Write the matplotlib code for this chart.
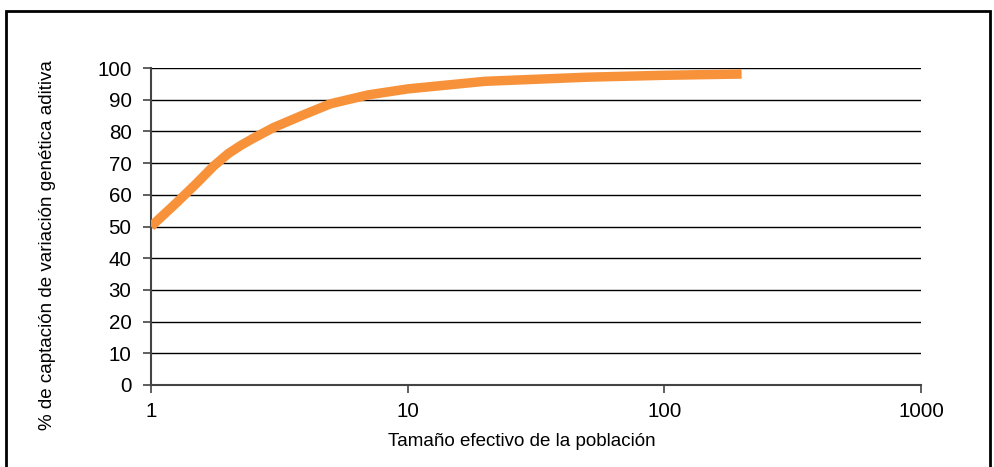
import matplotlib
matplotlib.use("Agg")
import matplotlib.pyplot as plt
from matplotlib.ticker import FixedLocator, FixedFormatter, NullLocator
from matplotlib.patches import Rectangle

# tamaño efectivo (N) y % de variacion captada
tamano = [1, 1.25, 1.5, 1.75, 2, 2.25, 2.5, 3, 4, 5, 7, 10, 20, 50, 100, 200]
captacion = [50, 57.3, 63.5, 69, 73, 75.7, 77.8, 81.2, 85.5, 88.7, 91.5, 93.4, 95.8, 97.1, 97.7, 98.1]

xticks = [1, 10, 100, 1000]
yticks = list(range(0, 101, 10))

plt.rcParams['font.family'] = ['Liberation Sans', 'DejaVu Sans']

fig = plt.figure(figsize=(9.94, 4.67), dpi=100)
ax = fig.add_axes([151/994, 1-385/467, (921-151)/994, (385-68)/467])

# marco exterior
fig.patches.append(Rectangle((6/994, -0.1), (990-6)/994, 1.1-11/467,
                             transform=fig.transFigure, fill=False,
                             edgecolor='k', linewidth=2))

for y in yticks[1:]:
    ax.axhline(y, color='k', linewidth=1, zorder=1)

ax.plot(tamano, captacion, color='#F7923A', linewidth=6.8, solid_capstyle='butt',
        solid_joinstyle='round', zorder=3)

ax.set_xscale('log')
ax.set_xlim(1, 1000)
ax.set_ylim(0, 100)
ax.xaxis.set_major_locator(FixedLocator(xticks))
ax.xaxis.set_major_formatter(FixedFormatter([str(t) for t in xticks]))
ax.xaxis.set_minor_locator(NullLocator())
ax.set_yticks(yticks)

for s in ['top', 'right']:
    ax.spines[s].set_visible(False)
for s in ['left', 'bottom']:
    ax.spines[s].set_color('#444444')
    ax.spines[s].set_linewidth(1.5)

ax.tick_params(axis='both', labelsize=14.8, direction='out', length=6, width=1.2, color='#444444')
ax.tick_params(axis='x', pad=6)
ax.tick_params(axis='y', pad=8)

ax.set_xlabel('Tamaño efectivo de la población', fontsize=13.5)
ax.set_ylabel('% de captación de variación genética aditiva', fontsize=13.5)
ax.xaxis.set_label_coords((522-151)/770, -(441-385)/317, transform=ax.transAxes)
ax.yaxis.set_label_coords((47-151)/770, (385-245)/317, transform=ax.transAxes)
ax.xaxis.label.set_va('center')
ax.yaxis.label.set_va('center')

plt.savefig("out.png", dpi=100)
